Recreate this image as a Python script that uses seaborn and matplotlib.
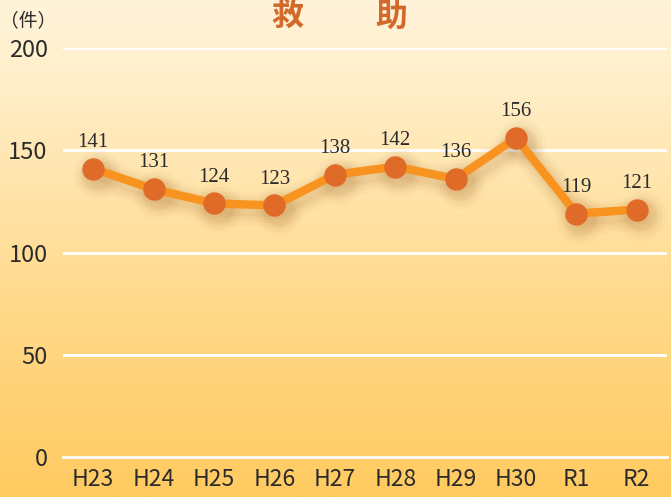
import numpy as np
import pandas as pd
import matplotlib
matplotlib.use("Agg")
import matplotlib.pyplot as plt
import matplotlib.transforms as mtransforms
from matplotlib.colors import LinearSegmentedColormap
import seaborn as sns

categories = ["H23", "H24", "H25", "H26", "H27", "H28", "H29", "H30", "R1", "R2"]
values = [141, 131, 124, 123, 138, 142, 136, 156, 119, 121]
yticks = [0, 50, 100, 150, 200]
title_chars = ["救", "助"]
unit_label = "（件）"

sns.set_theme(style="white")
plt.rcParams['font.family'] = ['Noto Sans CJK JP', 'DejaVu Sans']

W, H = 671, 497
fig = plt.figure(figsize=(W / 100, H / 100), dpi=100)

# gradient background
bg = fig.add_axes([0, 0, 1, 1], zorder=0)
cmap = LinearSegmentedColormap.from_list(
    "bg", [(0.0, "#FFF3D9"), (0.15, "#FFEFCB"), (0.6, "#FFDA8C"), (1.0, "#FFCA60")])
grad = np.linspace(0, 1, 256).reshape(-1, 1)
bg.imshow(grad, aspect="auto", cmap=cmap, extent=[0, 1, 0, 1], origin="upper")
bg.set_axis_off()

left, right = 63 / W, 667 / W
bottom, top = 1 - 457 / H, 1 - 48 / H
ax = fig.add_axes([left, bottom, right - left, top - bottom], zorder=1)
ax.patch.set_alpha(0)

df = pd.DataFrame({"year": categories, "count": values})
x = np.arange(len(categories))

# soft shadow under the line
for lw, a in [(24, 0.025), (19, 0.035), (14, 0.045), (10, 0.055)]:
    tr = mtransforms.offset_copy(ax.transData, fig=fig, x=4, y=-5, units="dots")
    ax.plot(x, values, color="#8A4A10", lw=lw, alpha=a, solid_capstyle="round",
            solid_joinstyle="round", transform=tr, zorder=2)
    ax.scatter(x, values, s=(lw + 12) ** 2, color="#8A4A10", alpha=a, lw=0,
               transform=tr, zorder=2)

sns.lineplot(data=df, x="year", y="count", ax=ax, color="#F7931E", lw=6,
             sort=False, zorder=3)
sns.scatterplot(data=df, x="year", y="count", ax=ax, color="#E06A27", s=260,
                linewidth=0, zorder=4)

for xi, v in zip(x, values):
    ax.annotate(str(v), (xi, v), xytext=(0, 19), textcoords="offset points",
                ha="center", va="center", fontsize=15, color="#2B2B2B",
                family="Liberation Serif", zorder=5)

ax.set_xlim(-0.5, len(categories) - 0.5)
ax.set_ylim(0, 200)
ax.set_yticks(yticks)
ax.set_yticklabels([str(t) for t in yticks], fontsize=17, color="#2B2B2B")
ax.set_xticks(x)
ax.set_xticklabels(categories, fontsize=16.5, color="#2B2B2B")
ax.set_xticks(np.arange(-0.5, len(categories), 1.0), minor=True)
ax.tick_params(axis="y", length=0, pad=11)
ax.tick_params(axis="x", which="major", length=0, pad=8)
ax.tick_params(axis="x", which="minor", length=6, width=2, color="white", direction="out")
ax.set_xlabel("")
ax.set_ylabel("")

ax.grid(False)
for t in yticks[1:]:
    ax.axhline(t, color="white", lw=2, zorder=1)
for s in ["top", "right", "left"]:
    ax.spines[s].set_visible(False)
ax.spines["bottom"].set_color("white")
ax.spines["bottom"].set_linewidth(2)

fig.text(28 / W, 1 - 21 / H, unit_label, ha="center", va="center",
         fontsize=13.5, color="#2B2B2B")
fig.text(287 / W, 1 - 17 / H, title_chars[0], ha="center", va="center",
         fontsize=23, color="#D2692A", fontweight="bold")
fig.text(391 / W, 1 - 17 / H, title_chars[1], ha="center", va="center",
         fontsize=23, color="#D2692A", fontweight="bold")

fig.savefig("out.png", dpi=100)
